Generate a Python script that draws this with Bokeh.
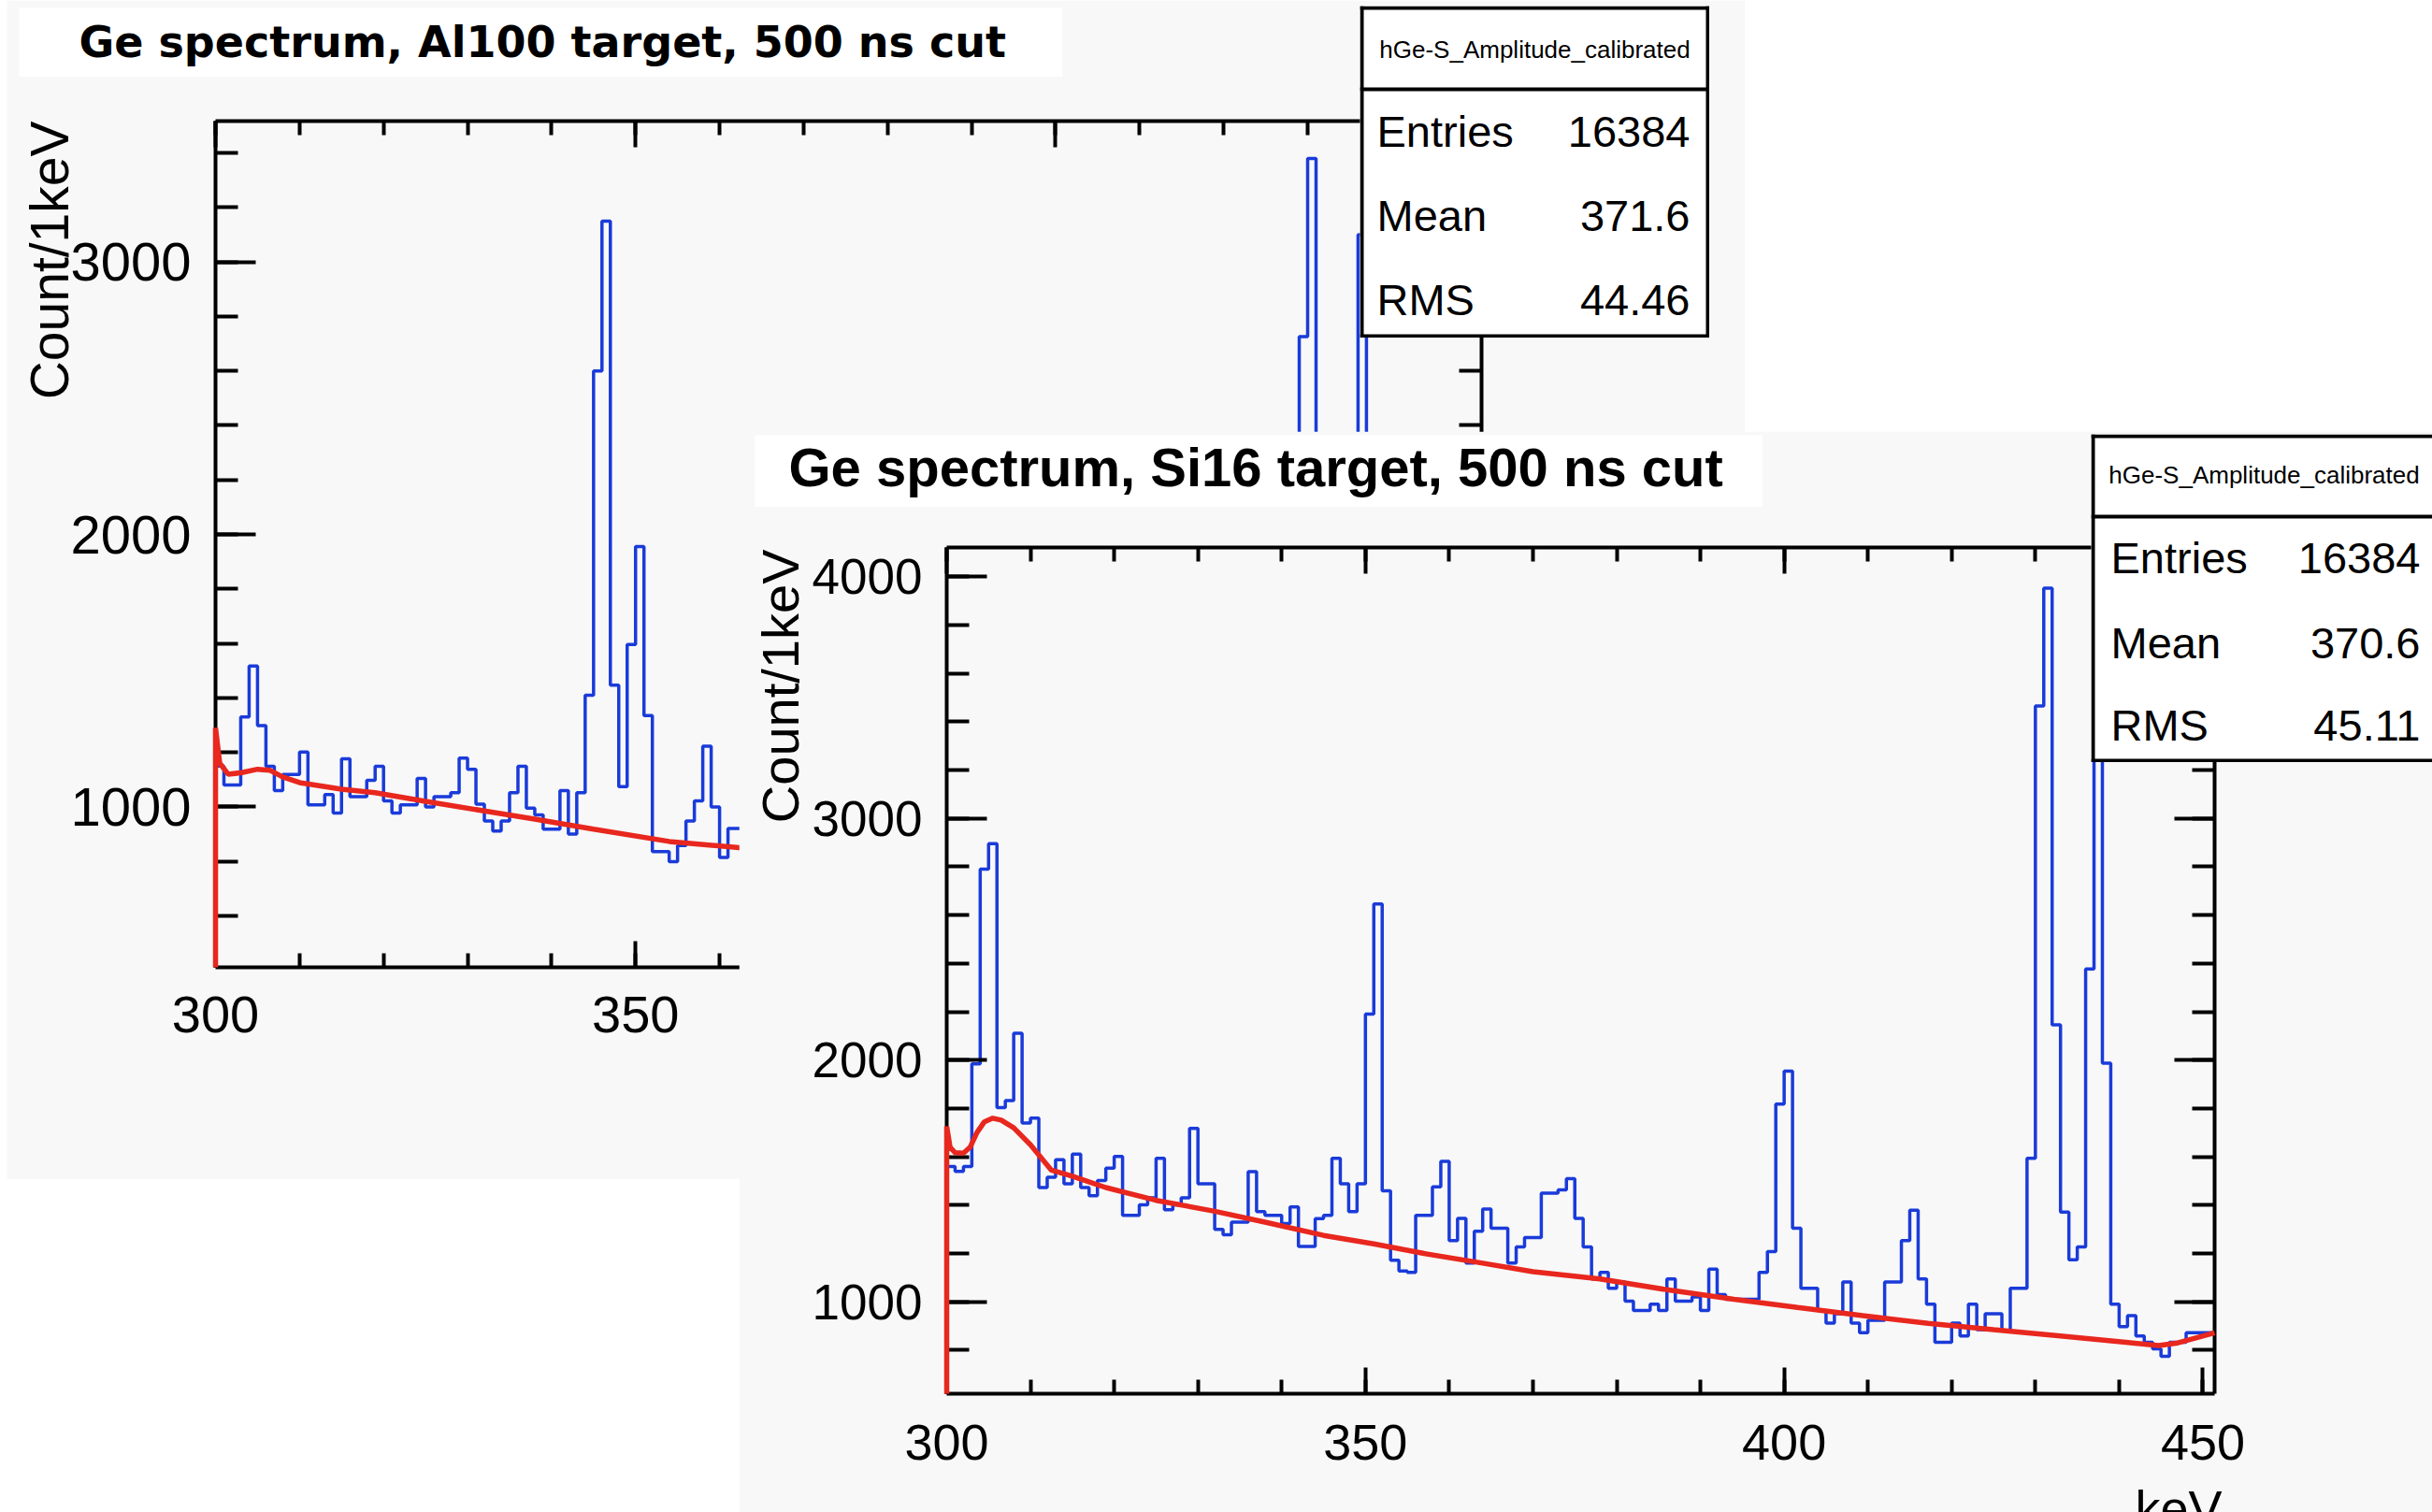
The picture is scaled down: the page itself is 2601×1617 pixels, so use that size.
import numpy as np
from math import pi
from bokeh.plotting import figure
from bokeh.models import Range1d, LinearAxis, FixedTicker, Span
from bokeh.core.properties import value
from bokeh.embed import file_html
from bokeh.resources import INLINE

# ---------------- data ----------------
bin_low = 300.0
bin_width = 1.0

al100_counts = [
    1150, 1080, 1080, 1330, 1517, 1298, 1149, 1060, 1119, 1119,
    1201, 1007, 1007, 1045, 977, 1176, 1037, 1037, 1097, 1149,
    1022, 977, 1007, 1007, 1104, 1000, 1037, 1037, 1052, 1179,
    1138, 1010, 948, 911, 948, 1052, 1149, 995, 970, 918,
    918, 1060, 900, 1052, 1410, 2600, 3150, 1447, 1074, 1596,
    1955, 1335, 836, 836, 799, 858, 948, 1022, 1223, 1000,
    814, 921, 921, 880, 905, 870, 850, 890, 860, 835,
    900, 960, 985, 940, 960, 905, 845, 820, 830, 800,
    815, 790, 770, 780, 765, 800, 790, 760, 770, 745,
    780, 760, 745, 750, 735, 760, 740, 780, 880, 1450,
    1580, 980, 770, 745, 730, 720, 745, 710, 725, 700,
    715, 730, 790, 880, 1020, 1100, 830, 720, 690, 700,
    680, 705, 690, 670, 700, 685, 700, 760, 1250, 2726,
    3380, 1850, 1100, 900, 950, 1900, 3100, 1750, 820, 700,
    690, 670, 660, 650, 640, 660, 680, 690, 700, 690,
    700, 700,
]

si16_counts = [
    1560, 1540, 1560, 1985, 2790, 2896, 1804, 1833, 2111, 1740,
    1760, 1473, 1516, 1588, 1488, 1611, 1473, 1439, 1502, 1553,
    1602, 1358, 1358, 1401, 1430, 1594, 1381, 1401, 1430, 1718,
    1488, 1488, 1300, 1278, 1330, 1330, 1539, 1373, 1358, 1358,
    1324, 1393, 1229, 1229, 1344, 1358, 1594, 1488, 1373, 1488,
    2191, 2646, 1459, 1172, 1128, 1122, 1358, 1358, 1476, 1581,
    1253, 1345, 1161, 1292, 1384, 1305, 1305, 1161, 1227, 1266,
    1266, 1450, 1450, 1463, 1510, 1345, 1227, 1095, 1122, 1056,
    1082, 1003, 964, 964, 990, 964, 1095, 1003, 1003, 1020,
    964, 1135, 1030, 1011, 1011, 1011, 1011, 1122, 1208, 1818,
    1955, 1305, 1056, 1056, 964, 912, 951, 1082, 912, 872,
    924, 924, 1082, 1082, 1253, 1379, 1095, 990, 833, 833,
    912, 859, 990, 885, 951, 951, 880, 1056, 1056, 1594,
    3465, 3953, 2146, 1371, 1174, 1227, 2377, 3300, 1988, 990,
    898, 943, 859, 833, 806, 775, 833, 833, 872, 872,
    872, 872,
]

al100_fit_x = [300, 300, 300.5, 301.5, 303, 305, 306.5, 308, 310, 315, 319, 325,
               332, 338, 345, 354, 362, 370, 380, 390, 400, 410, 420, 430, 440, 445, 450.7]
al100_fit_y = [0, 1290, 1160, 1120, 1125, 1138, 1134, 1110, 1089, 1065, 1052, 1020,
               985, 955, 918, 873, 851, 825, 795, 770, 748, 728, 708, 692, 676, 670, 690]

si16_fit_x = [300, 300, 300.4, 301, 302, 302.8, 303.6, 304.5, 305.5, 306.5, 308, 310,
              312.5, 315, 319, 325, 332, 338, 345, 351, 357, 364, 370, 378, 386, 394,
              401.6, 409.4, 417.2, 425, 433, 440.8, 444.7, 447, 451.4]
si16_fit_y = [0, 1726, 1640, 1617, 1615, 1640, 1700, 1745, 1760, 1752, 1720, 1650,
              1545, 1520, 1473, 1420, 1375, 1330, 1275, 1240, 1200, 1160, 1125, 1095, 1050, 1011,
              977, 943, 911, 885, 859, 833, 819, 830, 872]

x_major = [300, 350, 400, 450]
x_minor = list(range(300, 460, 10))
al_y_major = [1000, 2000, 3000]
al_y_minor = list(range(400, 3600, 200))
si_y_major = [1000, 2000, 3000, 4000]
si_y_minor = list(range(600, 4200, 200))

stats_labels = ["Entries", "Mean", "RMS"]
al100_stats = ["16384", "371.6", "44.46"]
si16_stats = ["16384", "370.6", "45.11"]
hist_name = "hGe-S_Amplitude_calibrated"
al100_title = "Ge spectrum, Al100 target, 500 ns cut"
si16_title = "Ge spectrum, Si16 target, 500 ns cut"
y_title = "Count/1keV"
x_title = "keV"

# ---------------- style ----------------
BG = "#f8f8f8"
BLUE = "#1a3bd9"
RED = "#e8271e"
FONT = "Liberation Sans"


def place(m, left, top):
    m.styles = {"position": "absolute", "left": f"{left}px", "top": f"{top}px"}


def hist_outline(counts):
    c = np.asarray(counts, dtype=float)
    edges = bin_low + bin_width * np.arange(len(c) + 1)
    xs = np.repeat(edges, 2)[1:-1]
    ys = np.repeat(c, 2)
    xs = np.concatenate([[edges[0]], xs])
    ys = np.concatenate([[0.0], ys])
    return xs, ys


def style_axis(ax, major_len, minor_len, size, standoff):
    ax.axis_line_width = 4
    ax.axis_line_color = "black"
    ax.major_tick_in = major_len
    ax.major_tick_out = 0
    ax.minor_tick_in = minor_len
    ax.minor_tick_out = 0
    ax.major_tick_line_width = 4
    ax.minor_tick_line_width = 4
    ax.major_tick_line_color = "black"
    ax.minor_tick_line_color = "black"
    ax.major_label_text_font = FONT
    ax.major_label_text_font_size = f"{size}px"
    ax.major_label_text_color = "black"
    ax.major_label_standoff = standoff


def make_panel(cfg, xr, yr, counts, fit_x, fit_y, y_major, y_minor, ytick_size, xtick_size, xstand):
    p = figure(width=cfg["width"], height=cfg["height"],
               x_range=Range1d(*xr), y_range=Range1d(*yr),
               output_backend="svg", toolbar_location=None,
               min_border_left=cfg["bl"], min_border_right=cfg["br"],
               min_border_top=cfg["bt"], min_border_bottom=cfg["bb"],
               background_fill_color=BG, border_fill_color=BG,
               outline_line_color=None)
    p.grid.visible = False
    xt = FixedTicker(ticks=x_major, minor_ticks=x_minor)
    yt = FixedTicker(ticks=y_major, minor_ticks=y_minor)
    bottom = p.xaxis[0]
    left = p.yaxis[0]
    bottom.ticker = xt
    left.ticker = yt
    style_axis(bottom, 28, 15, xtick_size, xstand)
    style_axis(left, 43, 24, ytick_size, 26)
    top = LinearAxis(ticker=xt, major_label_overrides={t: "" for t in x_major})
    right = LinearAxis(ticker=yt, major_label_overrides={t: "" for t in y_major})
    style_axis(top, 28, 15, xtick_size, 0)
    style_axis(right, 43, 24, ytick_size, 0)
    p.add_layout(top, "above")
    p.add_layout(right, "right")

    hx, hy = hist_outline(counts)
    p.line(hx, hy, line_color=BLUE, line_width=3.5)
    # the fit is drawn over the frame (like ROOT), so keep it inside the y range
    fy = np.maximum(np.asarray(fit_y, dtype=float), yr[0])
    p.line(fit_x, fy, line_color=RED, line_width=5.5, level="annotation")
    place(p, cfg["left"], cfg["top"])
    return p


def box_figure(left, top, width, height, transparent=False):
    f = figure(width=width, height=height,
               x_range=Range1d(0, width), y_range=Range1d(height, 0),
               x_axis_type=None, y_axis_type=None,
               output_backend="svg", toolbar_location=None, min_border=0,
               background_fill_color="white", border_fill_color="white",
               outline_line_color=None)
    if transparent:
        f.background_fill_alpha = 0
        f.border_fill_alpha = 0
    f.grid.visible = False
    place(f, left, top)
    return f


def vertical_title(left, top, width, height, cx, top_end, size):
    # transparent strip holding the rotated axis title, right-aligned at top_end
    f = figure(width=width, height=height,
               x_range=Range1d(0, width), y_range=Range1d(0, height),
               x_axis_type=None, y_axis_type=None,
               output_backend="svg", toolbar_location=None, min_border=0,
               background_fill_alpha=0, border_fill_alpha=0, outline_line_color=None)
    f.grid.visible = False
    f.text(x=[cx - left], y=[height - (top_end - top)], text=[y_title], angle=pi / 2,
           text_font=value(FONT), text_font_size=f"{size}px",
           text_align="right", text_baseline="middle", text_color="black")
    place(f, left, top)
    return f


def stats_box(left, top, width, height, divider, title_xy, label_x, value_x, row_y, vals,
              right_edge=True):
    f = box_figure(left, top, width, height)
    edges = [("height", 2), ("width", 2), ("width", height - 2), ("width", divider)]
    if right_edge:
        edges.append(("height", width - 2))
    for dim, loc in edges:
        f.add_layout(Span(location=loc, dimension=dim, line_color="black", line_width=4))
    f.text(x=[title_xy[0]], y=[title_xy[1]], text=[hist_name],
           text_font=value(FONT), text_font_size="26px",
           text_align="center", text_baseline="middle", text_color="black")
    f.text(x=[label_x] * 3, y=row_y, text=stats_labels,
           text_font=value(FONT), text_font_size="47px",
           text_align="left", text_baseline="middle", text_color="black")
    f.text(x=[value_x] * 3, y=row_y, text=vals,
           text_font=value(FONT), text_font_size="47px",
           text_align="right", text_baseline="middle", text_color="black")
    return f


# ---------------- panel 1 (Al100) ----------------
P1 = dict(left=7, top=0, width=1859, height=1261, bl=223, br=282, bt=129, bb=227)
p1 = make_panel(P1, (300, 450.7), (411, 3517), al100_counts, al100_fit_x, al100_fit_y,
                al_y_major, al_y_minor, 58, 56, 31)

t1 = box_figure(20, 8, 1116, 74)
t1.text(x=[64], y=[36], text=[al100_title], text_font=value("DejaVu Sans"),
        text_font_style="bold", text_font_size="46px",
        text_align="left", text_baseline="middle", text_color="black")

y1 = vertical_title(22, 120, 62, 330, 52, 129, 57)

s1 = stats_box(1454, 6, 374, 355, 89, (187, 46), 18, 353, [134, 224, 314], al100_stats)

# ---------------- panel 2 (Si16) ----------------
P2 = dict(left=790, top=461, width=1811, height=1156, bl=222, br=233, bt=124, bb=127)
p2 = make_panel(P2, (300, 451.4), (620, 4121), si16_counts, si16_fit_x, si16_fit_y,
                si_y_major, si_y_minor, 53, 54, 33)

y2 = vertical_title(804, 578, 62, 330, 834, 587, 56)

k2 = box_figure(2280, 1576, 110, 41, transparent=True)
k2.text(x=[96], y=[36], text=[x_title], text_font=value(FONT), text_font_size="54px",
        text_align="right", text_baseline="middle", text_color="black")

t2 = box_figure(807, 465, 1078, 77)
t2.text(x=[36], y=[34], text=[si16_title], text_font=value(FONT),
        text_font_style="bold", text_font_size="58px",
        text_align="left", text_baseline="middle", text_color="black")

s2 = stats_box(2236, 464, 365, 351, 88, (185, 43), 21, 352, [132, 223, 311], si16_stats,
               right_edge=False)

open("out.html", "w").write(file_html((p1, t1, y1, s1, p2, y2, k2, t2, s2), INLINE))
